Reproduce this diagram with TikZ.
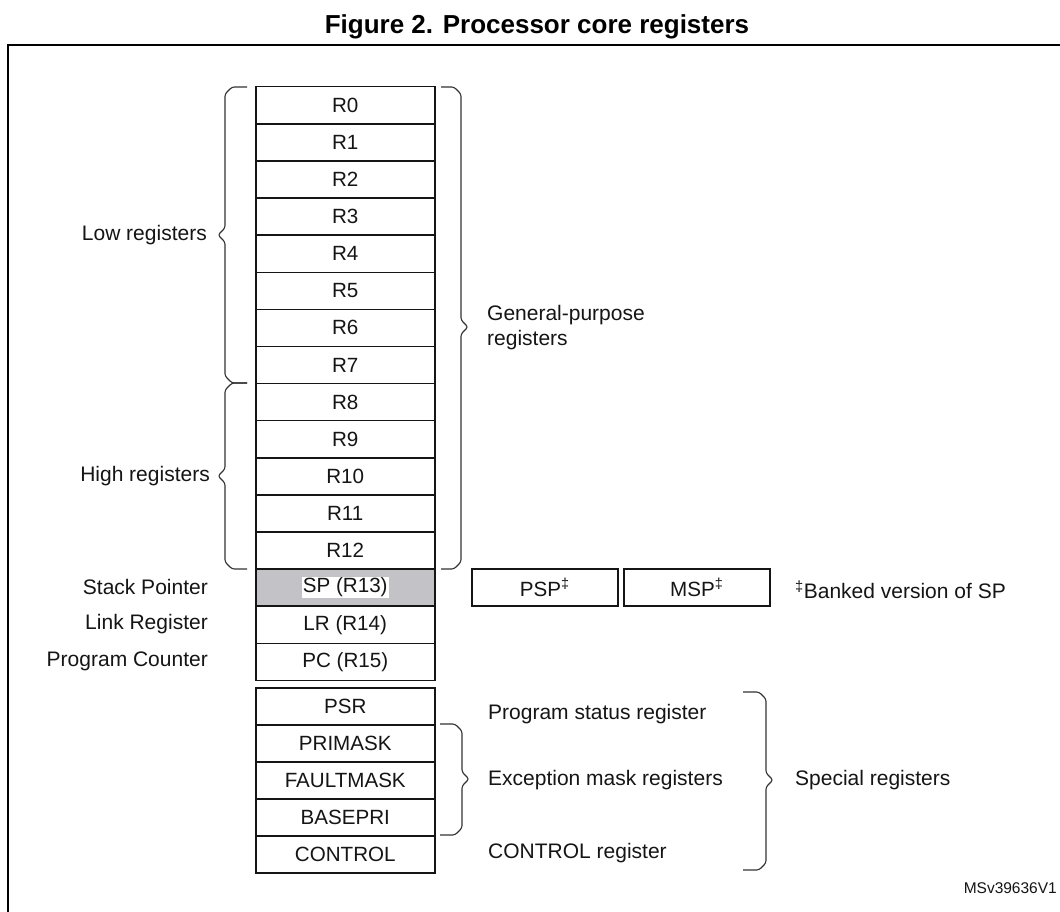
\documentclass[tikz,border=0pt]{standalone}
\usepackage{fontspec}
\setmainfont{Liberation Sans}
\definecolor{txt}{HTML}{151515}
\definecolor{spgray}{HTML}{C3C3C7}
\definecolor{brc}{HTML}{333333}
\newcommand\bracepl[4]{% left-pointing brace: xv, ytop, ybot, ymid
  \draw[bracel] ({#1+22},#2) -- ({#1+7},#2) -- (#1,{#2+7}) -- (#1,{#4-7}) -- ({#1-7},#4) -- (#1,{#4+7}) -- (#1,{#3-7}) -- ({#1+7},#3) -- ({#1+22},#3);}
\newcommand\bracepr[5]{% right-pointing brace: xv, ytop, ybot, ymid, xstart
  \draw[bracel] (#5,#2) -- ({#1-7},#2) -- (#1,{#2+7}) -- (#1,{#4-7}) -- ({#1+7},#4) -- (#1,{#4+7}) -- (#1,{#3-7}) -- ({#1-7},#3) -- (#5,#3);}
\begin{document}
\begin{tikzpicture}[x=1pt,y=-1pt,
  font=\fontsize{21}{25}\selectfont, text=txt,
  reg/.style={draw=txt, line width=1.5pt, minimum width=179pt, minimum height=37.1pt, inner sep=0pt, anchor=north west, font=\fontsize{20.6}{24}\selectfont},
  sreg/.style={reg, minimum height=37pt},
  bracel/.style={draw=brc, line width=1.1pt, rounded corners=2.5pt},
  lbl/.style={anchor=east, inner sep=0pt},
  rlbl/.style={anchor=west, inner sep=0pt, align=left}]
\useasboundingbox (0,0) rectangle (1060,912);
\fill[white] (0,0) rectangle (1060,912);
% frame
\draw[line width=2.4pt, black] (8,915) -- (8,45) -- (1065,45);
% title
\node[font=\fontsize{26}{30}\selectfont\bfseries, text=black] (title) at (537,27) {Figure 2. Processor core registers};
% general purpose registers
\foreach \i in {0,...,12}
  \node[reg] (r\i) at (255,{86+37.1*\i}) {R\i};
\node[reg, fill=spgray] (sp) at (255,{86+37.1*13}) {};
\node[fill=white, inner sep=1pt, font=\fontsize{20.6}{24}\selectfont] (sptxt) at (sp.center) {SP (R13)};
\node[reg] (lr) at (255,{86+37.1*14}) {LR (R14)};
\node[reg] (pc) at (255,{86+37.1*15}) {PC (R15)};
% banked SP
\node[reg, minimum width=146pt] (psp) at (471,{86+37.1*13}) {PSP\textsuperscript{‡}};
\node[reg, minimum width=146pt] (msp) at (623,{86+37.1*13}) {MSP\textsuperscript{‡}};
\node[rlbl] (bank) at (795,590) {\textsuperscript{‡}Banked version of SP};
% special registers
\node[sreg] (psr) at (255,687) {PSR};
\node[sreg] (primask) at (255,724) {PRIMASK};
\node[sreg] (faultmask) at (255,761) {FAULTMASK};
\node[sreg] (basepri) at (255,798) {BASEPRI};
\node[sreg] (control) at (255,835) {CONTROL};
% left labels
\node[lbl] (low) at (207,235) {Low registers};
\node[lbl] (high) at (210,476) {High registers};
\node[lbl] (spl) at (208,587) {Stack Pointer};
\node[lbl] (lrl) at (208,624) {Link Register};
\node[lbl] (pcl) at (208,661) {Program Counter};
% right labels
\node[rlbl] (gp) at (487,328) {General-purpose\\registers};
\node[rlbl] (psrl) at (488,714) {Program status register};
\node[rlbl] (excl) at (488,780) {Exception mask registers};
\node[rlbl] (ctrll) at (488,853) {CONTROL register};
\node[rlbl] (spec) at (795,780) {Special registers};
\node[anchor=east, inner sep=0pt, font=\fontsize{15.5}{18}\selectfont] (id) at (1057,888) {MSv39636V1};
% braces
\bracepl{225}{87}{383}{235}
\bracepl{225}{383}{569}{476}
\bracepr{461}{87}{569}{327}{441}
\bracepr{462}{724}{835}{779}{440}
\bracepr{766}{692}{870}{780}{743}
\end{tikzpicture}
\end{document}
